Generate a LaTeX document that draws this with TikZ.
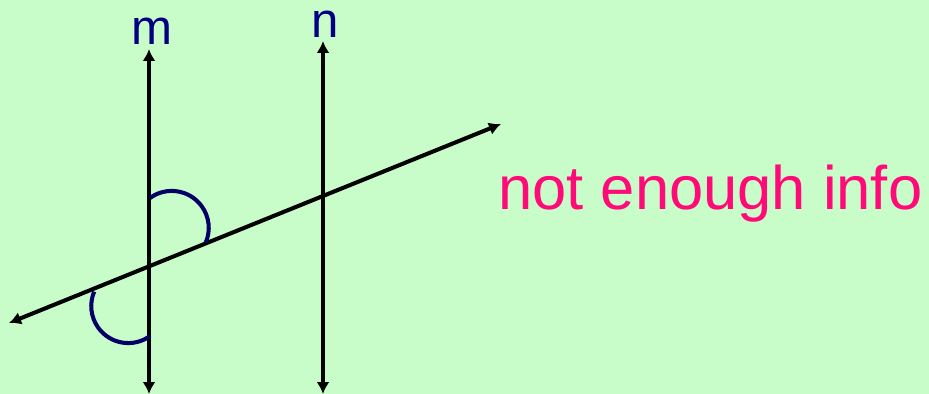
\documentclass[tikz,border=0pt]{standalone}
\usepackage{fontspec}
\setmainfont{Liberation Sans}
\usetikzlibrary{arrows.meta}
\definecolor{bggreen}{HTML}{C8FCC8}
\definecolor{labelnavy}{HTML}{000080}
\definecolor{arcnavy}{HTML}{000066}
\definecolor{notepink}{HTML}{FF0A78}
\tikzset{
  >=Latex,
  line/.style={{Latex[length=2.4mm,width=2.6mm]}-{Latex[length=2.4mm,width=2.6mm]}, line width=2.3pt, draw=black},
  anglemark/.style={line width=2.3pt, draw=arcnavy},
  linelabel/.style={anchor=base, inner sep=0pt, font=\fontsize{28}{30}\selectfont, text=labelnavy},
  note/.style={anchor=base west, inner sep=0pt, font=\fontsize{35}{40}\selectfont, text=notepink}
}

\begin{document}
\begin{tikzpicture}[x=0.02cm,y=-0.02cm]
\fill[bggreen] (0,0) rectangle (929,394);
\useasboundingbox (0,0) rectangle (929,394);
\coordinate (mtop) at (149,49);
\coordinate (mbot) at (149,394);
\coordinate (ntop) at (323,41);
\coordinate (nbot) at (323,394);
\coordinate (tleft) at (9,323);
\coordinate (tright) at (501,124);
\node[linelabel] (mlabel) at (152,45) {m};
\node[linelabel] (nlabel) at (325,38) {n};
\draw[line] (mbot) -- (mtop);
\draw[line] (nbot) -- (ntop);
\draw[line] (tleft) -- (tright);
\draw[anglemark] (150,198) arc[start angle=234, end angle=383, radius=37];
\draw[anglemark] (150,336) arc[start angle=54, end angle=203, radius=37];
\node[note] (info) at (498,210) {not enough info};
\end{tikzpicture}
\end{document}
